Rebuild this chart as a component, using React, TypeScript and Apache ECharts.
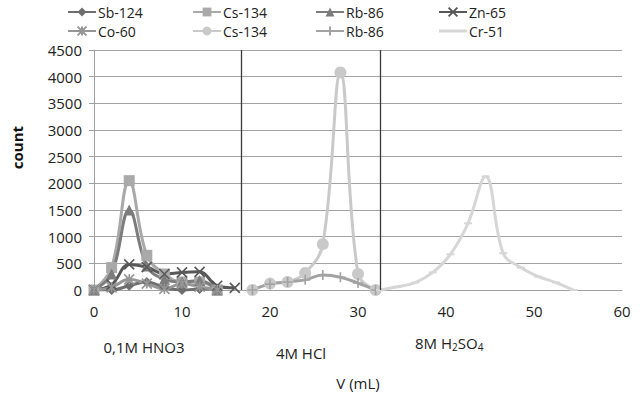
import React, { useEffect, useRef } from "react";
import * as echarts from "echarts";

// Fraction volumes (mL)
const xNitric = [0, 2, 4, 6, 8, 10, 12, 14];
const xNitricZn = [0, 2, 4, 6, 8, 10, 12, 14, 16];
const xHCl = [18, 20, 22, 24, 26, 28, 30, 32];
const xSulf = [32.5, 34.5, 36.5, 38.5, 40.5, 42.5, 44.5, 46.5, 48.5, 50.5, 52.5, 54.5];

// counts
const sb124 = [0, 0, 80, 150, 50, 0, 20, 30];
const cs134a = [0, 420, 2050, 650, 300, 150, 150, 0];
const rb86a = [0, 300, 1500, 450, 200, 150, 180, 0];
const zn65 = [0, 100, 480, 430, 300, 330, 340, 80, 40];
const co60 = [0, 50, 200, 120, 20, 120, 60, 0];
const cs134b = [0, 120, 150, 320, 860, 4080, 300, 0];
const rb86b = [0, 110, 150, 190, 280, 240, 130, 0];
const cr51 = [0, 60, 140, 330, 670, 1250, 2130, 690, 420, 250, 140, 0];

const separators = [16.75, 32.5];
const yTicks = { min: 0, max: 4500, interval: 500 };
const xTicks = { min: 0, max: 60, interval: 10 };

const FONT = "Open Sans";
const FS = 15;

const pair = (xs: number[], ys: number[]) => xs.map((x, i) => [x, ys[i]]);

const SYM_X = "path://M0,0L10,10M10,0L0,10";
const SYM_PLUS = "path://M5,0L5,10M0,5L10,5";
const SYM_STAR = "path://M0,0L10,10M10,0L0,10M5,0L5,10";
const ICON_DASH = "path://M0,0L28,0L28,3L0,3Z";

export default function App() {
  const ref = useRef<HTMLDivElement>(null);
  useEffect(() => {
    const chart = echarts.init(ref.current!, null, { renderer: "svg" });
    const mk = (
      name: string,
      data: number[][],
      color: string,
      symbol: string,
      symbolSize: any,
      stroke = false
    ) => ({
      name,
      type: "line",
      data,
      smooth: 0.4,
      symbol,
      symbolSize,
      showAllSymbol: true,
      lineStyle: { color, width: 3 },
      itemStyle: stroke
        ? { color, borderColor: color, borderWidth: 1.6 }
        : { color, borderColor: color, borderWidth: 0 },
    });
    const series: any[] = [
      mk("Sb-124", pair(xNitric, sb124), "#6e6e6e", "diamond", 10),
      mk("Cs-134", pair(xNitric, cs134a), "#a9a9a9", "rect", 11),
      mk("Rb-86", pair(xNitric, rb86a), "#7c7c7c", "triangle", 11),
      mk("Zn-65", pair(xNitricZn, zn65), "#585858", SYM_X, 10, true),
      mk("Co-60", pair(xNitric, co60), "#969696", SYM_STAR, 10, true),
      mk("Cs-134 ", pair(xHCl, cs134b), "#c9c9c9", "circle", 12),
      mk("Rb-86 ", pair(xHCl, rb86b), "#a2a2a2", SYM_PLUS, 10, true),
      mk("Cr-51", pair(xSulf, cr51), "#d6d6d6", "rect", [8, 2]),
    ];
    series[0].markLine = {
      silent: true,
      symbol: "none",
      label: { show: false },
      lineStyle: { color: "#3a3a3a", width: 1.3, type: "solid" },
      data: separators.map((v) => ({ xAxis: v })),
    };
    const legendCol = (left: number, names: any[]) => ({
      left,
      top: 0,
      orient: "vertical",
      itemGap: 5,
      itemWidth: 28,
      itemHeight: 11,
      data: names,
      textStyle: {
        fontFamily: FONT,
        fontSize: 14,
        lineHeight: 14,
        color: "#222",
        padding: [0, 0, 0, -3],
      },
      formatter: (n: string) => n.trim(),
    });
    const txt = (text: string, x: number, y: number) => ({
      type: "text",
      x,
      y,
      style: {
        text,
        font: `${FS}px "${FONT}"`,
        fill: "#222",
        align: "center",
        verticalAlign: "middle",
      },
    });
    const option: any = {
      animation: false,
      backgroundColor: "#fff",
      textStyle: { fontFamily: FONT },
      grid: { left: 94, right: 21, top: 50, bottom: 103 },
      legend: [
        legendCol(62, ["Sb-124", "Co-60"]),
        legendCol(187, ["Cs-134", "Cs-134 "]),
        legendCol(310, ["Rb-86", "Rb-86 "]),
        legendCol(433, ["Zn-65", { name: "Cr-51", icon: ICON_DASH }]),
      ],
      xAxis: {
        type: "value",
        ...xTicks,
        axisLine: { show: true, lineStyle: { color: "#a0a0a0", width: 1 } },
        axisTick: { show: false },
        splitLine: { show: false },
        axisLabel: { fontFamily: FONT, fontSize: FS, color: "#222", margin: 13 },
      },
      yAxis: {
        type: "value",
        ...yTicks,
        axisLine: { show: true, lineStyle: { color: "#a0a0a0", width: 1 } },
        axisTick: { show: true, inside: false, length: 5, lineStyle: { color: "#a0a0a0" } },
        splitLine: { show: true, lineStyle: { color: "#a3a3a3", width: 1 } },
        axisLabel: {
          fontFamily: FONT,
          fontSize: FS,
          color: "#222",
          margin: 12,
          formatter: (v: number) => String(v),
        },
      },
      graphic: [
        {
          type: "text",
          left: 9,
          top: 126,
          rotation: Math.PI / 2,
          style: { text: "count", font: `bold ${FS}px "${FONT}"`, fill: "#111" },
        },
        txt("V (mL)", 358, 383),
        txt("0,1M HNO3", 144, 347),
        txt("4M HCl", 301, 353),
        {
          type: "text",
          x: 415,
          y: 334,
          style: {
            text: "{n|8M H}{s|2}{n|SO}{s|4}",
            fill: "#222",
            rich: {
              n: { fontFamily: FONT, fontSize: FS, lineHeight: 18, verticalAlign: "middle", fill: "#222" },
              s: { fontFamily: FONT, fontSize: 10, lineHeight: 10, verticalAlign: "bottom", fill: "#222" },
            },
          },
        },
      ],
      series,
    };
    chart.setOption(option);
    return () => chart.dispose();
  }, []);
  return (
    <div
      ref={ref}
      style={{ position: "absolute", left: 0, top: 0, width: 643, height: 393 }}
    />
  );
}
